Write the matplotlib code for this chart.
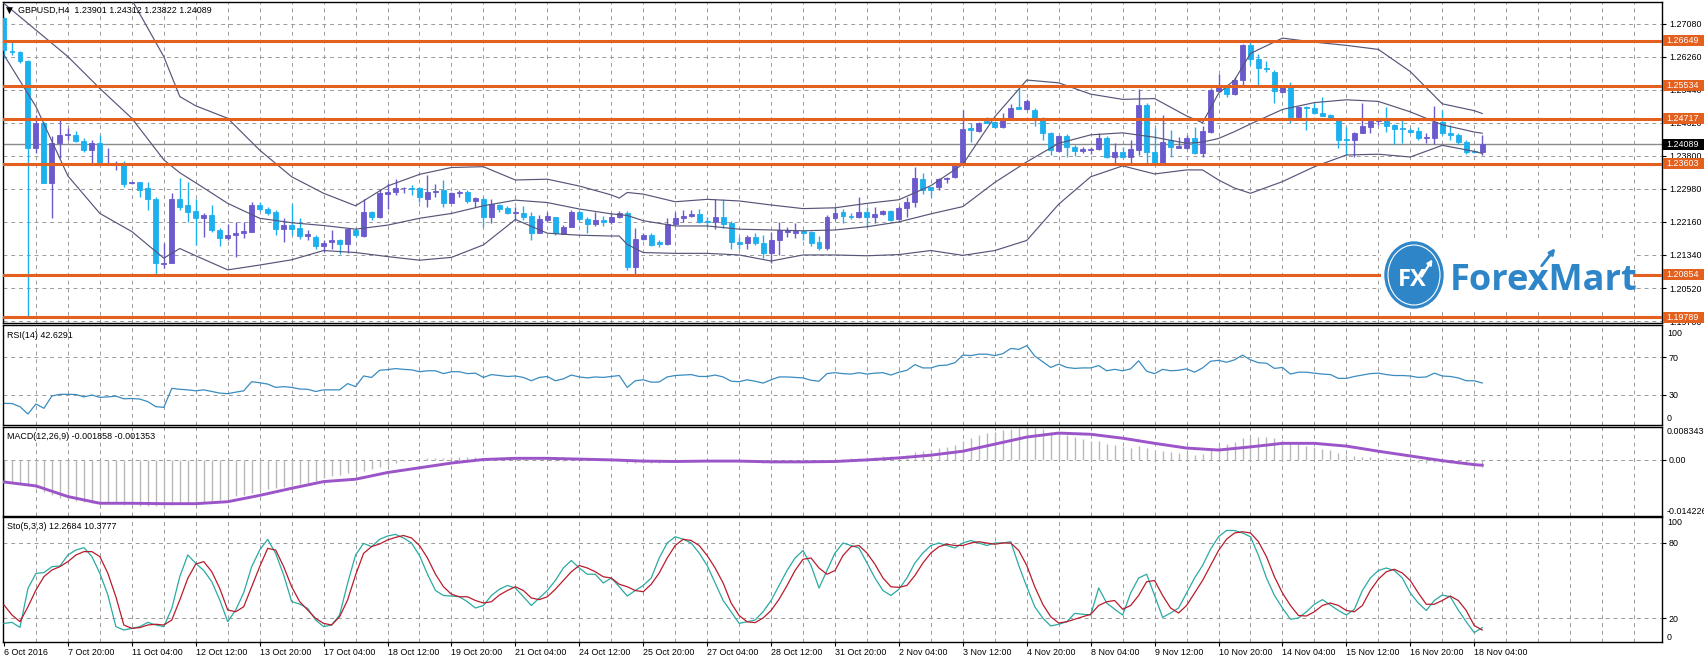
import matplotlib
matplotlib.use("Agg")
import matplotlib.pyplot as plt
import matplotlib.transforms as mtransforms
from matplotlib.patches import Ellipse, Rectangle, FancyArrowPatch
import numpy as np

W, H, DPI = 1704, 664, 100
FS = 6.4

# ---------------- data ----------------
title_text = "GBPUSD,H4  1.23901 1.24312 1.23822 1.24089"
rsi_title = "RSI(14) 42.6291"
macd_title = "MACD(12,26,9) -0.001858 -0.001353"
sto_title = "Sto(5,3,3) 12.2684 10.3777"

date_labels = ["6 Oct 2016", "7 Oct 20:00", "11 Oct 04:00", "12 Oct 12:00", "13 Oct 20:00",
               "17 Oct 04:00", "18 Oct 12:00", "19 Oct 20:00", "21 Oct 04:00", "24 Oct 12:00",
               "25 Oct 20:00", "27 Oct 04:00", "28 Oct 12:00", "31 Oct 20:00", "2 Nov 04:00",
               "3 Nov 12:00", "4 Nov 20:00", "8 Nov 04:00", "9 Nov 12:00", "10 Nov 20:00",
               "14 Nov 04:00", "15 Nov 12:00", "16 Nov 20:00", "18 Nov 04:00"]

opens = [1.2721, 1.2640, 1.2637, 1.2614, 1.2399, 1.2461, 1.2313, 1.2411, 1.2432, 1.2432,
         1.2416, 1.2394, 1.2413, 1.2360, 1.2360, 1.2363, 1.2312, 1.2314, 1.2299, 1.2274,
         1.2112, 1.2113, 1.2272, 1.2257, 1.2244, 1.2225, 1.2233, 1.2196, 1.2175, 1.2184,
         1.2188, 1.2192, 1.2258, 1.2248, 1.2241, 1.2198, 1.2208, 1.2200, 1.2182, 1.2179,
         1.2155, 1.2165, 1.2170, 1.2161, 1.2196, 1.2182, 1.2241, 1.2227, 1.2285, 1.2289,
         1.2299, 1.2301, 1.2299, 1.2274, 1.2289, 1.2294, 1.2264, 1.2287, 1.2289, 1.2268,
         1.2274, 1.2229, 1.2258, 1.2250, 1.2237, 1.2239, 1.2231, 1.2189, 1.2221, 1.2227,
         1.2186, 1.2204, 1.2241, 1.2222, 1.2211, 1.2221, 1.2217, 1.2227, 1.2237, 1.2105,
         1.2173, 1.2183, 1.2165, 1.2160, 1.2211, 1.2225, 1.2231, 1.2235, 1.2219, 1.2217,
         1.2229, 1.2214, 1.2165, 1.2163, 1.2178, 1.2163, 1.2140, 1.2171, 1.2192, 1.2189,
         1.2193, 1.2192, 1.2167, 1.2151, 1.2225, 1.2240, 1.2231, 1.2227, 1.2240, 1.2229,
         1.2236, 1.2243, 1.2222, 1.2250, 1.2266, 1.2322, 1.2302, 1.2302, 1.2322, 1.2327,
         1.2360, 1.2448, 1.2442, 1.2466, 1.2465, 1.2451, 1.2473, 1.2500, 1.2495, 1.2494,
         1.2469, 1.2437, 1.2393, 1.2428, 1.2403, 1.2393, 1.2394, 1.2396, 1.2425, 1.2376,
         1.2390, 1.2378, 1.2394, 1.2506, 1.2390, 1.2361, 1.2419, 1.2400, 1.2399, 1.2425,
         1.2388, 1.2440, 1.2542, 1.2552, 1.2533, 1.2568, 1.2655, 1.2619, 1.2599, 1.2589,
         1.2539, 1.2550, 1.2477, 1.2502, 1.2498, 1.2487, 1.2481, 1.2470, 1.2421, 1.2419,
         1.2437, 1.2452, 1.2467, 1.2469, 1.2456, 1.2448, 1.2444, 1.2441, 1.2423, 1.2423,
         1.2465, 1.2437, 1.2432, 1.2415, 1.2393, 1.23901]
highs = [1.2724, 1.2663, 1.2639, 1.2618, 1.2481, 1.2465, 1.2429, 1.2469, 1.2448, 1.2442,
         1.2424, 1.2419, 1.2432, 1.2399, 1.2366, 1.2366, 1.2316, 1.2316, 1.2316, 1.2279,
         1.2163, 1.2287, 1.2324, 1.2316, 1.2274, 1.2237, 1.2258, 1.2200, 1.2212, 1.2217,
         1.2217, 1.2266, 1.2266, 1.2254, 1.2246, 1.2225, 1.2261, 1.2225, 1.2196, 1.2184,
         1.2171, 1.2196, 1.2173, 1.2200, 1.2200, 1.2273, 1.2244, 1.2297, 1.2313, 1.2322,
         1.2303, 1.2308, 1.2303, 1.2332, 1.2310, 1.2320, 1.2291, 1.2295, 1.2295, 1.2279,
         1.2279, 1.2272, 1.2261, 1.2256, 1.2254, 1.2256, 1.2241, 1.2233, 1.2241, 1.2229,
         1.2208, 1.2246, 1.2246, 1.2227, 1.2241, 1.2231, 1.2239, 1.2244, 1.2244, 1.2200,
         1.2188, 1.2188, 1.2170, 1.2225, 1.2240, 1.2246, 1.2246, 1.2248, 1.2227, 1.2272,
         1.2272, 1.2219, 1.2178, 1.2184, 1.2188, 1.2184, 1.2192, 1.2217, 1.2204, 1.2214,
         1.2196, 1.2194, 1.2181, 1.2233, 1.2252, 1.2248, 1.2237, 1.2277, 1.2254, 1.2254,
         1.2246, 1.2246, 1.2256, 1.2279, 1.2353, 1.2337, 1.2303, 1.2324, 1.2328, 1.2361,
         1.2494, 1.2462, 1.2465, 1.2477, 1.2467, 1.2485, 1.2509, 1.2547, 1.2520, 1.2498,
         1.2477, 1.2440, 1.2432, 1.2434, 1.2407, 1.2403, 1.2403, 1.2437, 1.2428, 1.2413,
         1.2403, 1.2419, 1.2545, 1.2510, 1.2448, 1.2481, 1.2444, 1.2427, 1.2432, 1.2452,
         1.2454, 1.2547, 1.2583, 1.2556, 1.2576, 1.2657, 1.2667, 1.2633, 1.2614, 1.2593,
         1.2553, 1.2564, 1.2504, 1.2504, 1.2512, 1.2527, 1.2484, 1.2473, 1.2452, 1.2440,
         1.2512, 1.2469, 1.2473, 1.2500, 1.2459, 1.2469, 1.2448, 1.2452, 1.2437, 1.2504,
         1.2494, 1.2456, 1.2437, 1.2419, 1.2394, 1.24312]
lows = [1.2622, 1.2630, 1.2610, 1.1981, 1.2386, 1.2312, 1.2225, 1.2374, 1.2419, 1.2415,
        1.2390, 1.2361, 1.2361, 1.2357, 1.2345, 1.2303, 1.2310, 1.2279, 1.2246, 1.2088,
        1.2101, 1.2113, 1.2246, 1.2217, 1.2159, 1.2179, 1.2192, 1.2156, 1.2171, 1.2130,
        1.2175, 1.2192, 1.2244, 1.2233, 1.2184, 1.2167, 1.2184, 1.2173, 1.2170, 1.2148,
        1.2142, 1.2150, 1.2136, 1.2138, 1.2178, 1.2179, 1.2221, 1.2225, 1.2248, 1.2283,
        1.2287, 1.2283, 1.2266, 1.2254, 1.2279, 1.2252, 1.2262, 1.2279, 1.2262, 1.2254,
        1.2204, 1.2214, 1.2241, 1.2236, 1.2221, 1.2221, 1.2170, 1.2188, 1.2217, 1.2184,
        1.2185, 1.2203, 1.2219, 1.2189, 1.2206, 1.2206, 1.2212, 1.2225, 1.2097, 1.2082,
        1.2170, 1.2155, 1.2153, 1.2159, 1.2208, 1.2217, 1.2229, 1.2214, 1.2204, 1.2198,
        1.2200, 1.2148, 1.2150, 1.2150, 1.2159, 1.2126, 1.2113, 1.2134, 1.2178, 1.2175,
        1.2171, 1.2156, 1.2146, 1.2146, 1.2221, 1.2214, 1.2222, 1.2225, 1.2204, 1.2214,
        1.2233, 1.2219, 1.2221, 1.2229, 1.2252, 1.2285, 1.2277, 1.2295, 1.2313, 1.2324,
        1.2357, 1.2415, 1.2440, 1.2461, 1.2448, 1.2448, 1.2469, 1.2495, 1.2494, 1.2454,
        1.2419, 1.2382, 1.2390, 1.2378, 1.2380, 1.2388, 1.2385, 1.2394, 1.2374, 1.2357,
        1.2374, 1.2361, 1.2382, 1.2357, 1.2357, 1.2357, 1.2378, 1.2399, 1.2396, 1.2385,
        1.2378, 1.2436, 1.2539, 1.2527, 1.2531, 1.2556, 1.2605, 1.2556, 1.2589, 1.2510,
        1.2537, 1.2461, 1.2475, 1.2444, 1.2484, 1.2479, 1.2470, 1.2399, 1.2382, 1.2378,
        1.2436, 1.2436, 1.2457, 1.2440, 1.2409, 1.2411, 1.2436, 1.2419, 1.2411, 1.2409,
        1.2432, 1.2419, 1.2409, 1.2385, 1.2386, 1.23822]
closes = [1.2643, 1.2637, 1.2614, 1.2399, 1.2461, 1.2313, 1.2411, 1.2432, 1.2434, 1.2416,
          1.2395, 1.2413, 1.2361, 1.2361, 1.2362, 1.2310, 1.2314, 1.2296, 1.2274, 1.2113,
          1.2115, 1.2274, 1.2254, 1.2241, 1.2225, 1.2233, 1.2196, 1.2175, 1.2184, 1.2188,
          1.2194, 1.2258, 1.2248, 1.2237, 1.2198, 1.2208, 1.2198, 1.2182, 1.2185, 1.2155,
          1.2163, 1.2170, 1.2161, 1.2198, 1.2183, 1.2241, 1.2229, 1.2287, 1.2290, 1.2299,
          1.2301, 1.2298, 1.2277, 1.2291, 1.2292, 1.2264, 1.2287, 1.2289, 1.2268, 1.2275,
          1.2229, 1.2261, 1.2248, 1.2237, 1.2241, 1.2227, 1.2189, 1.2222, 1.2231, 1.2188,
          1.2204, 1.2240, 1.2222, 1.2211, 1.2221, 1.2217, 1.2227, 1.2237, 1.2105, 1.2173,
          1.2183, 1.2159, 1.2160, 1.2211, 1.2225, 1.2231, 1.2235, 1.2217, 1.2217, 1.2229,
          1.2211, 1.2165, 1.2161, 1.2178, 1.2163, 1.2140, 1.2171, 1.2196, 1.2196, 1.2193,
          1.2189, 1.2163, 1.2151, 1.2229, 1.2239, 1.2231, 1.2227, 1.2240, 1.2229, 1.2236,
          1.2242, 1.2221, 1.2250, 1.2266, 1.2324, 1.2294, 1.2295, 1.2322, 1.2326, 1.2357,
          1.2446, 1.2444, 1.2462, 1.2462, 1.2452, 1.2473, 1.2498, 1.2496, 1.2517, 1.2473,
          1.2437, 1.2394, 1.2428, 1.2401, 1.2393, 1.2396, 1.2396, 1.2423, 1.2376, 1.2390,
          1.2378, 1.2397, 1.2506, 1.2390, 1.2361, 1.2415, 1.2403, 1.2405, 1.2423, 1.2388,
          1.2442, 1.2543, 1.2552, 1.2533, 1.2568, 1.2655, 1.2619, 1.2597, 1.2595, 1.2542,
          1.2550, 1.2477, 1.2500, 1.2498, 1.2487, 1.2480, 1.2475, 1.2419, 1.2418, 1.2437,
          1.2454, 1.2466, 1.2471, 1.2454, 1.2446, 1.2446, 1.2438, 1.2423, 1.2426, 1.2465,
          1.2436, 1.2432, 1.2415, 1.2390, 1.2390, 1.24089]

level_prices = [1.26649, 1.25534, 1.24717, 1.23603, 1.20854, 1.19789]
last_price = 1.24089
price_ticks = [1.27080, 1.26260, 1.25440, 1.24620, 1.23800, 1.22980, 1.22160, 1.21340, 1.20520, 1.19700]

# Bollinger bands (20, 2)
bb_idx = [0, 4, 8, 12, 16, 20, 22, 24, 28, 32, 36, 40, 44, 48, 52, 56, 60, 64, 68, 72, 76, 77, 78,
          80, 84, 88, 92, 96, 100, 104, 108, 112, 116, 120, 124, 128, 132, 136, 140, 144, 148,
          150, 152, 154, 156, 160, 164, 168, 172, 176, 180, 184, 185]
bb_upper = [np.nan, np.nan, np.nan, 1.2850, 1.2767, 1.2626, 1.2527, 1.2504, 1.2473, 1.2394, 1.2328,
            1.2287, 1.2256, 1.2305, 1.2334, 1.2351, 1.2353, 1.2320, 1.2322, 1.2305, 1.2283, 1.2275,
            1.2289, 1.2285, 1.2266, 1.2272, 1.2268, 1.2258, 1.2249, 1.2251, 1.2262, 1.2271, 1.2306,
            1.2359, 1.2477, 1.2568, 1.2561, 1.2533, 1.2520, 1.2522, 1.2479, 1.2462, 1.2535, 1.2568,
            1.2634, 1.2672, 1.2662, 1.2654, 1.2644, 1.2589, 1.2509, 1.2492, 1.2485]
bb_mid = [1.2758, 1.2692, 1.2626, 1.2547, 1.2473, 1.2370, 1.2338, 1.2313, 1.2262, 1.2225, 1.2214,
          1.2207, 1.2198, 1.2208, 1.2225, 1.2237, 1.2256, 1.2270, 1.2264, 1.2248, 1.2236, 1.2234,
          1.2232, 1.2219, 1.2206, 1.2206, 1.2198, 1.2196, 1.2194, 1.2196, 1.2204, 1.2216, 1.2236,
          1.2254, 1.2314, 1.2365, 1.2411, 1.2432, 1.2437, 1.2426, 1.2411, 1.2414, 1.2423, 1.2440,
          1.2459, 1.2495, 1.2512, 1.2519, 1.2515, 1.2489, 1.2457, 1.2439, 1.2436]
bb_lower = [1.2630, 1.2502, 1.2330, 1.2237, 1.2192, 1.2126, 1.2150, 1.2132, 1.2097, 1.2109, 1.2122,
            1.2145, 1.2140, 1.2130, 1.2121, 1.2128, 1.2159, 1.2222, 1.2188, 1.2183, 1.2181, 1.2181,
            1.2160, 1.2140, 1.2138, 1.2138, 1.2134, 1.2119, 1.2134, 1.2134, 1.2132, 1.2135, 1.2145,
            1.2133, 1.2145, 1.2170, 1.2260, 1.2328, 1.2355, 1.2335, 1.2345, 1.2345, 1.2320, 1.2300,
            1.2287, 1.2316, 1.2353, 1.2382, 1.2384, 1.2377, 1.2406, 1.2391, 1.2386]

rsi_vals = [21.2, 21, 17.7, 10, 20.5, 16, 29, 30.7, 30.7, 30.5,
            28, 30, 27.5, 28, 28.8, 26, 26.3, 25.7, 23, 17.7,
            17, 37, 36, 35.4, 34.4, 35.4, 33.7, 32, 31.4, 33,
            34.4, 44, 42.9, 41.5, 38, 38.8, 38, 36.3, 36, 33.7,
            35.4, 35.4, 35.4, 42, 38.8, 50, 48.5, 56, 56.7, 57.8,
            57, 56.5, 54.5, 55.5, 55.5, 52.5, 54.5, 54.5, 52.5, 53,
            48.5, 51.5, 50.5, 49.5, 50, 48.5, 45, 48.5, 49.5, 45,
            47, 51, 49, 48, 49, 48.5, 49.5, 50.5, 38, 45,
            46, 43.5, 43.7, 49, 50.5, 51, 51.5, 49.5, 49.5, 51,
            49, 44.5, 44, 46, 44.5, 42.5, 46, 49, 49, 48.5,
            48, 45.5, 44.5, 52.5, 53.5, 52.5, 52, 53.5, 52, 53,
            53.5, 51, 54, 56, 62, 58.5, 58.5, 61, 61.5, 64,
            72, 71.5, 73, 73, 71.5, 73.5, 79, 78, 82, 71,
            65, 59, 62.5, 59, 58, 58.5, 58.5, 61, 55.5, 57,
            55.5, 57.5, 66, 55, 52.5, 57, 55.5, 56, 57.5, 54,
            58.5, 65.5, 66.5, 64.5, 67, 72, 67, 64, 63.5, 58,
            59, 52, 54, 54, 53, 52, 51.5, 47.5, 47.5, 49.5,
            51, 52.5, 53, 51.5, 50.5, 50.5, 50, 48.5, 49, 53,
            50, 49.5, 48, 45, 45, 42.6291]

macd_main = [-0.0057, -0.0057, -0.0058, -0.0062, -0.0072, -0.0082, -0.0090, -0.0096, -0.0100, -0.0104,
             -0.0107, -0.0109, -0.0111, -0.0112, -0.0113, -0.0114, -0.0115, -0.0116, -0.0117, -0.0118,
             -0.0119, -0.0115, -0.0113, -0.0111, -0.0110, -0.0108, -0.0105, -0.0101, -0.0097, -0.0092,
             -0.0088, -0.0084, -0.0080, -0.0075, -0.0072, -0.0069, -0.0066, -0.0062, -0.0058, -0.0054,
             -0.0047, -0.0041, -0.0038, -0.0034, -0.0031, -0.0028, -0.0024, -0.0019, -0.0014, -0.0007,
             -0.0004, 0.0000, 0.0002, 0.0004, 0.0005, 0.0005, 0.0007, 0.0008, 0.0008, 0.0008,
             0.0005, 0.0006, 0.0006, 0.0005, 0.0004, 0.0003, 0.0000, -0.0001, 0.0000, -0.0002,
             -0.0002, 0.0000, 0.0000, -0.0001, -0.0001, -0.0001, 0.0000, 0.0001, -0.0008, -0.0008,
             -0.0008, -0.0009, -0.0009, -0.0006, -0.0004, -0.0002, 0.0000, 0.0000, 0.0000, 0.0001,
             0.0000, -0.0003, -0.0005, -0.0005, -0.0006, -0.0008, -0.0008, -0.0006, -0.0005, -0.0004,
             -0.0004, -0.0005, -0.0006, -0.0002, 0.0001, 0.0003, 0.0004, 0.0006, 0.0007, 0.0008,
             0.0009, 0.0009, 0.0011, 0.0013, 0.0019, 0.0022, 0.0025, 0.0029, 0.0032, 0.0037,
             0.0048, 0.0056, 0.0063, 0.0068, 0.0071, 0.0075, 0.0079, 0.0081, 0.0083, 0.0082,
             0.0078, 0.0072, 0.0069, 0.0064, 0.0059, 0.0054, 0.0049, 0.0047, 0.0041, 0.0037,
             0.0032, 0.0030, 0.0035, 0.0030, 0.0024, 0.0023, 0.0020, 0.0018, 0.0017, 0.0013,
             0.0016, 0.0026, 0.0035, 0.0040, 0.0046, 0.0055, 0.0058, 0.0059, 0.0058, 0.0055,
             0.0051, 0.0044, 0.0040, 0.0036, 0.0032, 0.0028, 0.0024, 0.0018, 0.0013, 0.0010,
             0.0008, 0.0007, 0.0006, 0.0004, 0.0002, 0.0000, -0.0002, -0.0005, -0.0007, -0.0005,
             -0.0007, -0.0009, -0.0011, -0.0014, -0.0017, -0.001858]
macd_sig_idx = list(range(0, 185, 4)) + [185]
macd_signal = [-0.0056, -0.0066, -0.0093, -0.0110, -0.0110, -0.0111, -0.0111, -0.0106, -0.0090, -0.0072,
               -0.0055, -0.0049, -0.0032, -0.0020, -0.0008, 0.0001, 0.0004, 0.0004, 0.0002, 0.0000,
               -0.0003, -0.0004, -0.0003, -0.0003, -0.0005, -0.0005, -0.0004, 0.0000, 0.0005, 0.0012,
               0.0022, 0.0040, 0.0058, 0.0068, 0.0065, 0.0055, 0.0042, 0.0030, 0.0025, 0.0033,
               0.0042, 0.0042, 0.0035, 0.0022, 0.0010, -0.0002, -0.0012, -0.001353]

sto_main = [15.7, 16.5, 12.5, 43.7, 55.7, 56.3, 61.1, 61.6, 70.4, 74.4,
            76.3, 69.1, 55.7, 38.4, 13.1, 10.4, 11.7, 13.1, 16.5, 14.4,
            13.1, 27.7, 53.1, 70.4, 63.7, 58, 49.1, 34.4, 17.1, 26.4,
            40.3, 61.1, 74.4, 82.9, 71.7, 54.4, 33.1, 31.2, 27.7, 18.4,
            13.1, 14.4, 22.4, 47.7, 70.4, 79.7, 77.1, 82.9, 85.6, 86.9,
            84, 80, 70, 55, 42, 38, 37.5, 37, 33, 28,
            30, 38, 43, 46, 44, 37, 30, 36, 42, 50,
            60, 66, 60, 55, 55, 48, 52, 45, 37.6, 42,
            46, 52, 68, 80, 85, 83, 80, 72, 62, 48,
            34, 25, 15.7, 17, 18.4, 25, 34, 46, 58, 68,
            74, 62, 44, 58, 72, 80, 78, 76, 64, 52,
            42, 38, 43, 52, 64, 72, 78, 80, 78, 76,
            80, 82, 80, 78, 80, 80, 81, 62, 45, 29,
            20, 13.6, 15, 17, 23.7, 23, 22.4, 44, 32, 27,
            22.4, 40, 52, 55, 38, 20.5, 24, 28, 40, 52,
            62, 75, 85, 90, 90, 88, 85, 70, 52, 38,
            28, 19, 20, 25, 31, 34.7, 30.4, 26, 22.4, 27,
            42, 52, 58, 60, 58, 52, 40, 32, 26, 34,
            38.4, 37, 26.4, 17, 8.3, 12.2684]
sto_signal = [30.4, 22.4, 17.1, 29, 42.4, 53.1, 58.4, 61.1, 65.1, 70.4,
              73.1, 73.1, 69.1, 55.7, 37, 14.4, 11.7, 12.3, 14.4, 15,
              14.4, 18.4, 34.4, 51.7, 63.2, 65.1, 57.1, 43.7, 26.4, 25,
              29, 45, 61.1, 75.7, 74.4, 61.1, 45, 33.1, 26.4, 19.7,
              15.7, 14.4, 21, 34.4, 54.4, 71.7, 77.1, 79.2, 82.4, 84.5,
              86, 84, 78, 68, 55, 45, 39, 37, 37, 34,
              32, 33, 38.4, 42, 45, 42, 36, 34.7, 37, 43,
              50, 57, 62, 60, 57, 53, 52, 47, 45, 42,
              41, 47, 56, 68, 78, 83, 82, 78, 70, 60,
              48, 32, 22, 17, 16.3, 20, 26, 35, 46, 58,
              67, 68, 60, 55, 58, 70, 77, 78, 72, 63,
              52, 45, 44.5, 46, 54, 64, 72, 77, 79, 78,
              78, 80, 81, 80, 79, 80, 80, 74, 62, 45,
              31, 21, 16, 17, 19, 21, 23, 30, 33, 34,
              27, 30, 38, 49, 50, 38, 28, 24, 30, 40,
              50, 62, 74, 83, 88, 89, 88, 81, 69, 53,
              40, 30, 22, 21.6, 25, 30, 32, 30, 26, 25,
              30, 42, 51, 57, 59, 56, 50, 40, 31, 31,
              34, 37.6, 34, 26, 14, 10.3777]

# ---------------- styling ----------------
BULL = "#6a5acd"
BEAR = "#1cb0ee"
ORANGE = "#e4601e"
GRID = "#9a9a9a"
BAND = "#55557a"
LOGO = "#2e86c8"
XLIM = (-0.125, 207.5)

plt.rcParams["font.family"] = ["Liberation Sans", "DejaVu Sans"]
fig = plt.figure(figsize=(W / DPI, H / DPI), dpi=DPI, facecolor="white")


def add_panel(y0, y1):
    return fig.add_axes([3 / W, 1 - y1 / H, 1659 / W, (y1 - y0) / H])


def style_panel(ax, ylim, hgrid):
    ax.set_xlim(*XLIM)
    ax.set_ylim(*ylim)
    for s in ax.spines.values():
        s.set_color("black")
        s.set_linewidth(1.0)
    ax.yaxis.tick_right()
    ax.tick_params(axis="y", length=3, width=0.8, pad=2, labelsize=FS, colors="black")
    ax.tick_params(axis="x", bottom=False, labelbottom=False)
    for xv in range(4, 208, 4):
        ax.axvline(xv, color=GRID, lw=0.7, ls=(0, (4, 4)), zorder=0.5)
    for yv in hgrid:
        ax.axhline(yv, color=GRID, lw=0.7, ls=(0, (4, 4)), zorder=0.5)


def side_text(ax, y, txt, va):
    tr = ax.get_yaxis_transform() + mtransforms.ScaledTranslation(5 / DPI, 0, fig.dpi_scale_trans)
    ax.text(1.0, y, txt, transform=tr, va=va, ha="left", fontsize=FS, clip_on=False)


ax_main = add_panel(2, 323)
ax_rsi = add_panel(325, 425)
ax_macd = add_panel(427, 516)
ax_sto = add_panel(517, 642)
idx = np.arange(len(opens))

# ---- main price window ----
style_panel(ax_main, (1.19652, 1.27616), price_ticks)
ax_main.set_yticks(price_ticks)
ax_main.set_yticklabels([f"{p:.5f}" for p in price_ticks])

o, h, l, c = map(np.array, (opens, highs, lows, closes))
cols = np.where(c >= o, BULL, BEAR)
ax_main.axhline(last_price, color="#8a8a8a", lw=1.0, zorder=1)
ax_main.vlines(idx, l, h, colors=cols, lw=1.0, zorder=3)
ax_main.bar(idx, np.abs(c - o), bottom=np.minimum(o, c), width=0.62, color=cols,
            edgecolor=cols, linewidth=0.6, zorder=3)
for band in (bb_upper, bb_mid, bb_lower):
    ax_main.plot(bb_idx, band, color=BAND, lw=0.85, zorder=4)
for lv in level_prices:
    ax_main.axhline(lv, color=ORANGE, lw=2.2, zorder=5)

# price boxes on the right scale
for lv, face in [(p, ORANGE) for p in level_prices] + [(last_price, "black")]:
    ypix = ax_main.transData.transform((0, lv))[1]
    fig.add_artist(Rectangle((1663 / W, (ypix - 5.5) / H), 41 / W, 11 / H, transform=fig.transFigure,
                             facecolor=face, edgecolor="none", zorder=6))
    fig.text(1666 / W, ypix / H, f"{lv:.5f}", color="white", fontsize=FS, va="center",
             ha="left", zorder=7)

fig.text(6 / W, 1 - 10.5 / H, "\u25bc", fontsize=6.5, va="center", ha="left", zorder=8,
         family="DejaVu Sans")
fig.text(18 / W, 1 - 10.5 / H, title_text, fontsize=FS, va="center", ha="left", zorder=8)

# ---- RSI ----
style_panel(ax_rsi, (-1.6, 103.7), [70, 30])
ax_rsi.set_yticks([70, 30])
ax_rsi.set_yticklabels(["70", "30"])
side_text(ax_rsi, 100, "100", "top")
side_text(ax_rsi, 0, "0", "bottom")
ax_rsi.plot(idx, rsi_vals, color="#3a8cc0", lw=0.9)
fig.text(7 / W, 1 - 335.5 / H, rsi_title, fontsize=FS, va="center", ha="left")

# ---- MACD ----
style_panel(ax_macd, (-0.014226, 0.008343), [0])
ax_macd.set_yticks([0])
ax_macd.set_yticklabels(["0.00"])
side_text(ax_macd, 0.008343, "0.008343", "top")
side_text(ax_macd, -0.014226, "-0.014226", "bottom")
ax_macd.vlines(idx, 0, macd_main, colors="#b8b8b8", lw=1.0, zorder=2)
ax_macd.plot(macd_sig_idx, macd_signal, color="#9b55c8", lw=2.1, zorder=3)
fig.text(7 / W, 1 - 436.5 / H, macd_title, fontsize=FS, va="center", ha="left")

# ---- Stochastic ----
style_panel(ax_sto, (0.8, 100.8), [80, 20])
ax_sto.set_yticks([80, 20])
ax_sto.set_yticklabels(["80", "20"])
side_text(ax_sto, 100, "100", "top")
side_text(ax_sto, 0.8, "0", "bottom")
ax_sto.plot(idx, sto_main, color="#2aaaa2", lw=0.9, zorder=3)
ax_sto.plot(idx, sto_signal, color="#b81c2c", lw=0.9, zorder=3)
fig.text(7 / W, 1 - 526.5 / H, sto_title, fontsize=FS, va="center", ha="left")
ax_sto.set_xticks(range(0, 185, 8))
ax_sto.set_xticklabels(date_labels, ha="left")
ax_sto.tick_params(axis="x", bottom=True, labelbottom=True, length=3, width=0.8, pad=1,
                   labelsize=FS, colors="black")

# ---- logo ----
fig.add_artist(Rectangle((1381 / W, 1 - 312 / H), 252 / W, 74 / H, transform=fig.transFigure,
                         facecolor="white", edgecolor="none", zorder=9))
fig.add_artist(Ellipse((1414 / W, 1 - 275 / H), 58 / W, 66 / H, transform=fig.transFigure,
                       facecolor=LOGO, edgecolor=LOGO, zorder=10))
fig.add_artist(Ellipse((1414 / W, 1 - 275 / H), 52 / W, 60 / H, transform=fig.transFigure,
                       facecolor="none", edgecolor="white", lw=0.8, zorder=11))
fig.text(1412 / W, 1 - 280 / H, "FX", color="white", fontsize=17, fontweight="bold",
         ha="center", va="center", family="Open Sans", zorder=12)
fig.add_artist(FancyArrowPatch((1420 / W, 1 - 279 / H), (1434 / W, 1 - 257 / H),
                               transform=fig.transFigure, arrowstyle="-|>", mutation_scale=7,
                               color="white", lw=1.6, zorder=13))
fig.text(1450 / W, 1 - 290 / H, "ForexMart", color=LOGO, fontsize=26, fontweight="bold",
         ha="left", va="baseline", family="Open Sans", zorder=12)
fig.add_artist(FancyArrowPatch((1540 / W, 1 - 268 / H), (1557 / W, 1 - 246 / H),
                               transform=fig.transFigure, arrowstyle="-|>", mutation_scale=8,
                               color=LOGO, lw=2.0, zorder=13))

fig.savefig("out.png", dpi=DPI, facecolor="white")
